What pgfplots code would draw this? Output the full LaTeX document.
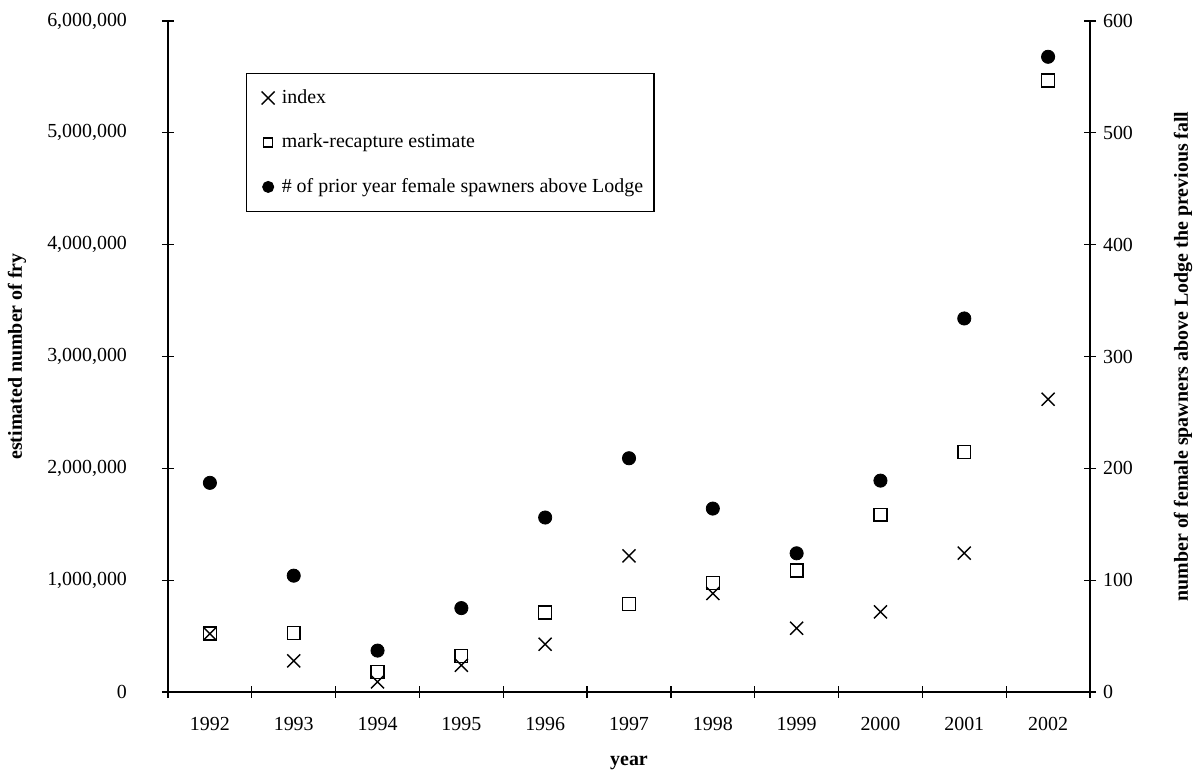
\documentclass[border=0pt]{standalone}
\usepackage{fontspec}
\setmainfont{Liberation Serif}
\usepackage{pgfplots}
\usepackage{pgfplotstable}
\pgfplotsset{compat=1.18}
\pgfplotsset{mylegimg/.style={legend image code/.code={\path (0bp,-3bp) (11.5bp,3bp); \draw[##1] plot coordinates {(6.5bp,0bp)};}}}

\pgfplotstableread{
year idx mr spawn
0 520000 523000 187
1 278000 528000 104
2 90000 179000 37
3 239000 320000 75
4 427000 711000 156
5 1218000 788000 209
6 881000 976000 164
7 570000 1087000 124
8 716000 1585000 189
9 1242000 2146000 334
10 2618000 5467000 568
}\data

\begin{document}
\begin{tikzpicture}
\pgfplotsset{every axis/.append style={
  scale only axis, width=461bp, height=335.5bp,
  xmin=-0.5, xmax=10.5,
  font=\fontsize{10}{12}\selectfont,
  tick align=center, major tick length=6bp,
  axis line style={line width=0.6bp, black},
  every tick/.style={line width=0.6bp, black},
  /pgf/number format/assume math mode=true,
}}
\begin{axis}[name=ax,
  axis x line*=bottom, axis y line*=left,
  ymin=0, ymax=6000000,
  ytick={0,1000000,2000000,3000000,4000000,5000000,6000000},
  scaled y ticks=false,
  yticklabel style={/pgf/number format/fixed, /pgf/number format/1000 sep={,}, xshift=-14bp},
  xtick={-0.5,0.5,1.5,2.5,3.5,4.5,5.5,6.5,7.5,8.5,9.5,10.5},
  xticklabels={1992,1993,1994,1995,1996,1997,1998,1999,2000,2001,2002},
  x tick label as interval,
  xticklabel style={yshift=-6bp},
  xlabel={\bfseries year},
  xlabel style={at={(rel axis cs:0.5,-0.1058)}, anchor=center},
  ylabel={\bfseries estimated number of fry},
  ylabel style={at={(rel axis cs:-0.1638,0.5)}, anchor=center},
]
\addplot[only marks, mark=square, mark size=3.2bp, mark options={black, line width=0.7bp}] table[x=year,y=mr]{\data};
\addplot[only marks, mark=x, mark size=4.6bp, mark options={black, line width=0.7bp}] table[x=year,y=idx]{\data};
\end{axis}
\begin{axis}[
  axis y line*=right, axis x line=none,
  ymin=0, ymax=600,
  ytick={0,100,200,300,400,500,600},
  ylabel={\bfseries number of female spawners above Lodge the previous fall},
  ylabel style={at={(rel axis cs:1.1009,0.5)}, anchor=center, rotate=0},
  legend cell align=left,
  legend style={at={(rel axis cs:0.0846,0.9225)}, anchor=north west, draw=black, line width=0.6bp,
    inner xsep=4bp, inner ysep=7bp, row sep=11.8bp,
    font=\fontsize{10}{12}\selectfont,
    nodes={inner xsep=1.5bp, inner ysep=1bp}},
]
\addlegendimage{only marks, mark=x, mark size=4.6bp, mark options={black, line width=0.7bp}, mylegimg}
\addlegendentry{index}
\addlegendimage{only marks, mark=square, mark size=2.2bp, mark options={black, line width=0.7bp}, mylegimg}
\addlegendentry{mark-recapture estimate}
\addplot[only marks, mark=*, mark size=3.3bp, mark options={black, fill=black}, forget plot] table[x=year,y=spawn]{\data};
\addlegendimage{only marks, mark=*, mark size=2.7bp, mark options={black, fill=black}, mylegimg}
\addlegendentry{\# of prior year female spawners above Lodge}
\end{axis}
\pgfresetboundingbox
\path[use as bounding box] ([xshift=-84bp,yshift=-41.5bp]ax.south west) rectangle ([xshift=51.5bp,yshift=10.5bp]ax.north east);
\end{tikzpicture}
\end{document}
